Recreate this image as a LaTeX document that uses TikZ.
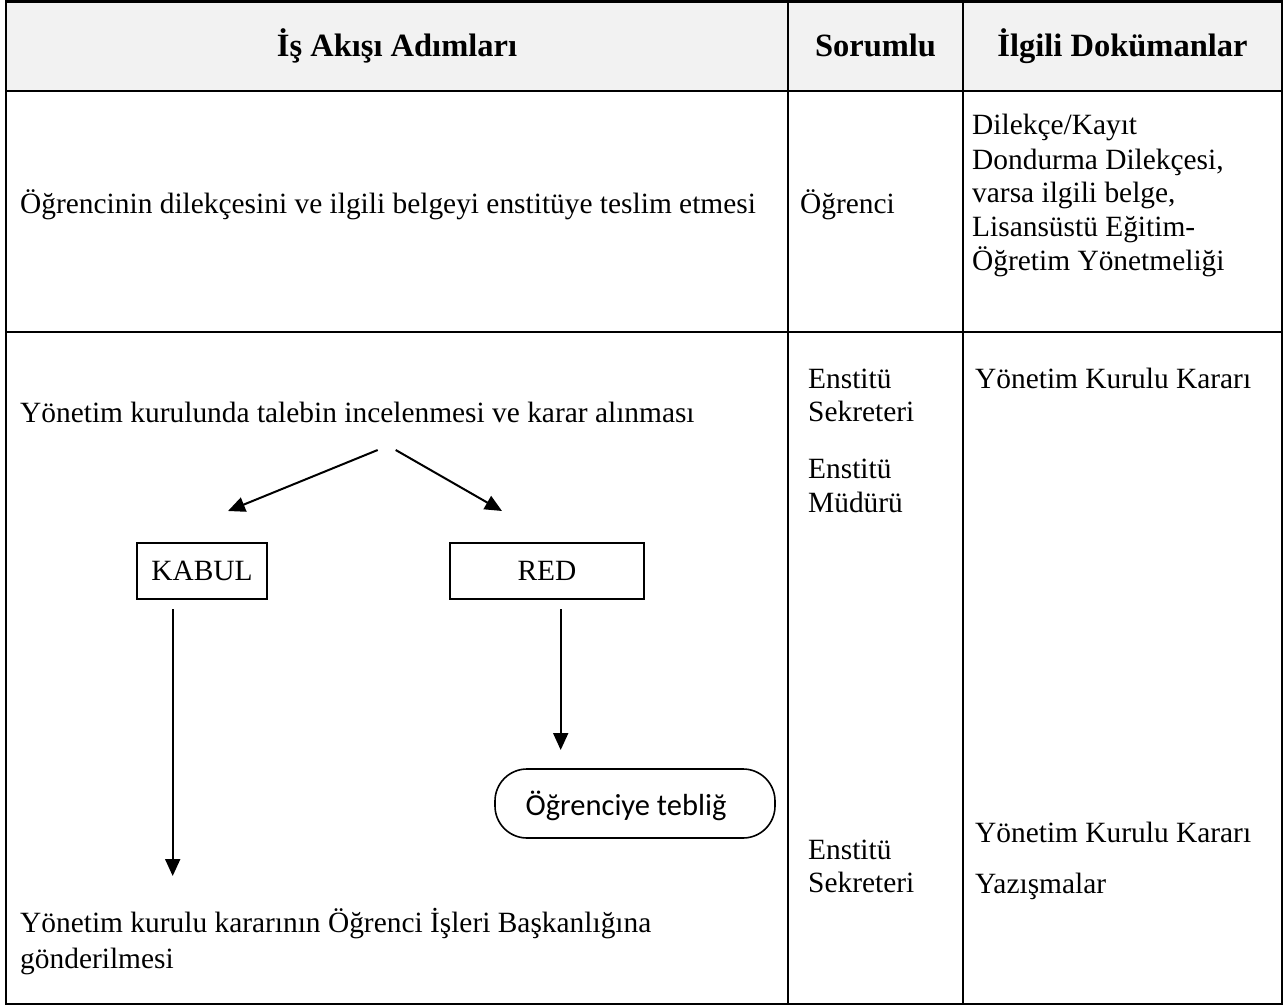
\documentclass[tikz,border=0pt]{standalone}
\usepackage{fontspec}
\setmainfont{Liberation Serif}
\newfontfamily\calibrifont{Carlito}
\usetikzlibrary{arrows.meta}
\begin{document}
\begin{tikzpicture}[x=1pt,y=-1pt,
  rule/.style={line width=2.2pt},
  txt/.style={anchor=base west, inner sep=0pt, font=\fontsize{29.4}{34}\selectfont},
  head/.style={anchor=base, inner sep=0pt, font=\bfseries\fontsize{32.5}{38}\selectfont},
  choice/.style={draw, line width=1.6pt, minimum height=56pt, inner sep=0pt,
                 font=\fontsize{29.4}{34}\selectfont},
  terminal/.style={draw, line width=1.6pt, rounded corners=32pt, minimum width=280pt,
                   minimum height=69pt, inner sep=0pt},
  flow/.style={line width=2pt, -{Triangle[length=17pt,width=15pt]}}
]
\useasboundingbox (0,0) rectangle (1285,1006);
\fill[white] (0,0) rectangle (1285,1006);

% header band
\fill[gray!10] (6,1.5) rectangle (1282,91);

% table rules
\draw[rule] (6,1.5) rectangle (1282,1004);
\draw[rule] (6,91) -- (1282,91);
\draw[rule] (6,332) -- (1282,332);
\draw[rule] (788,1.5) -- (788,1004);
\draw[rule] (963,1.5) -- (963,1004);

% column headings
\node[head] (h1) at (397,57) {İş Akışı Adımları};
\node[head] (h2) at (875.5,57) {Sorumlu};
\node[head] (h3) at (1122.5,57) {İlgili Dokümanlar};

% first step
\node[txt] (s1) at (20,213) {Öğrencinin dilekçesini ve ilgili belgeyi enstitüye teslim etmesi};
\node[txt] (r1) at (800,213) {Öğrenci};
\node[txt] (d1a) at (972,135) {Dilekçe/Kayıt};
\node[txt] (d1b) at (972,169) {Dondurma Dilekçesi,};
\node[txt] (d1c) at (972,202) {varsa ilgili belge,};
\node[txt] (d1d) at (972,236) {Lisansüstü Eğitim-};
\node[txt] (d1e) at (972,270) {Öğretim Yönetmeliği};

% second step
\node[txt] (s2) at (20,422) {Yönetim kurulunda talebin incelenmesi ve karar alınması};
\node[txt] (r2a) at (808,388) {Enstitü};
\node[txt] (r2b) at (808,421) {Sekreteri};
\node[txt] (r2c) at (808,478) {Enstitü};
\node[txt] (r2d) at (808,512) {Müdürü};
\node[txt] (d2) at (975,388) {Yönetim Kurulu Kararı};

% decision branches
\node[choice, minimum width=130pt] (kabul) at (202,571) {KABUL};
\node[choice, minimum width=194pt] (red) at (547,571) {RED};
\node[terminal] (teblig) at (635,803.5) {};
\node[anchor=base, inner sep=0pt, font=\calibrifont\fontsize{30.5}{36}\selectfont]
  (tebligtext) at (626,815) {Öğrenciye tebliğ};

\coordinate (splitL) at (377.7,450);
\coordinate (splitR) at (395.7,450);
\coordinate (tipL) at (228,511);
\coordinate (tipR) at (502,511);
\coordinate (kabulOut) at (172.7,609);
\coordinate (kabulEnd) at (172.7,876);
\coordinate (redOut) at (560.7,609);
\coordinate (redEnd) at (560.7,750);

\draw[flow] (splitL) -- (tipL);
\draw[flow] (splitR) -- (tipR);
\draw[flow] (kabulOut) -- (kabulEnd);
\draw[flow] (redOut) -- (redEnd);

% final step
\node[txt] (s3a) at (20,932) {Yönetim kurulu kararının Öğrenci İşleri Başkanlığına};
\node[txt] (s3b) at (20,968) {gönderilmesi};
\node[txt] (r3a) at (808,859) {Enstitü};
\node[txt] (r3b) at (808,892) {Sekreteri};
\node[txt] (d3a) at (975,842) {Yönetim Kurulu Kararı};
\node[txt] (d3b) at (975,893) {Yazışmalar};
\end{tikzpicture}
\end{document}
